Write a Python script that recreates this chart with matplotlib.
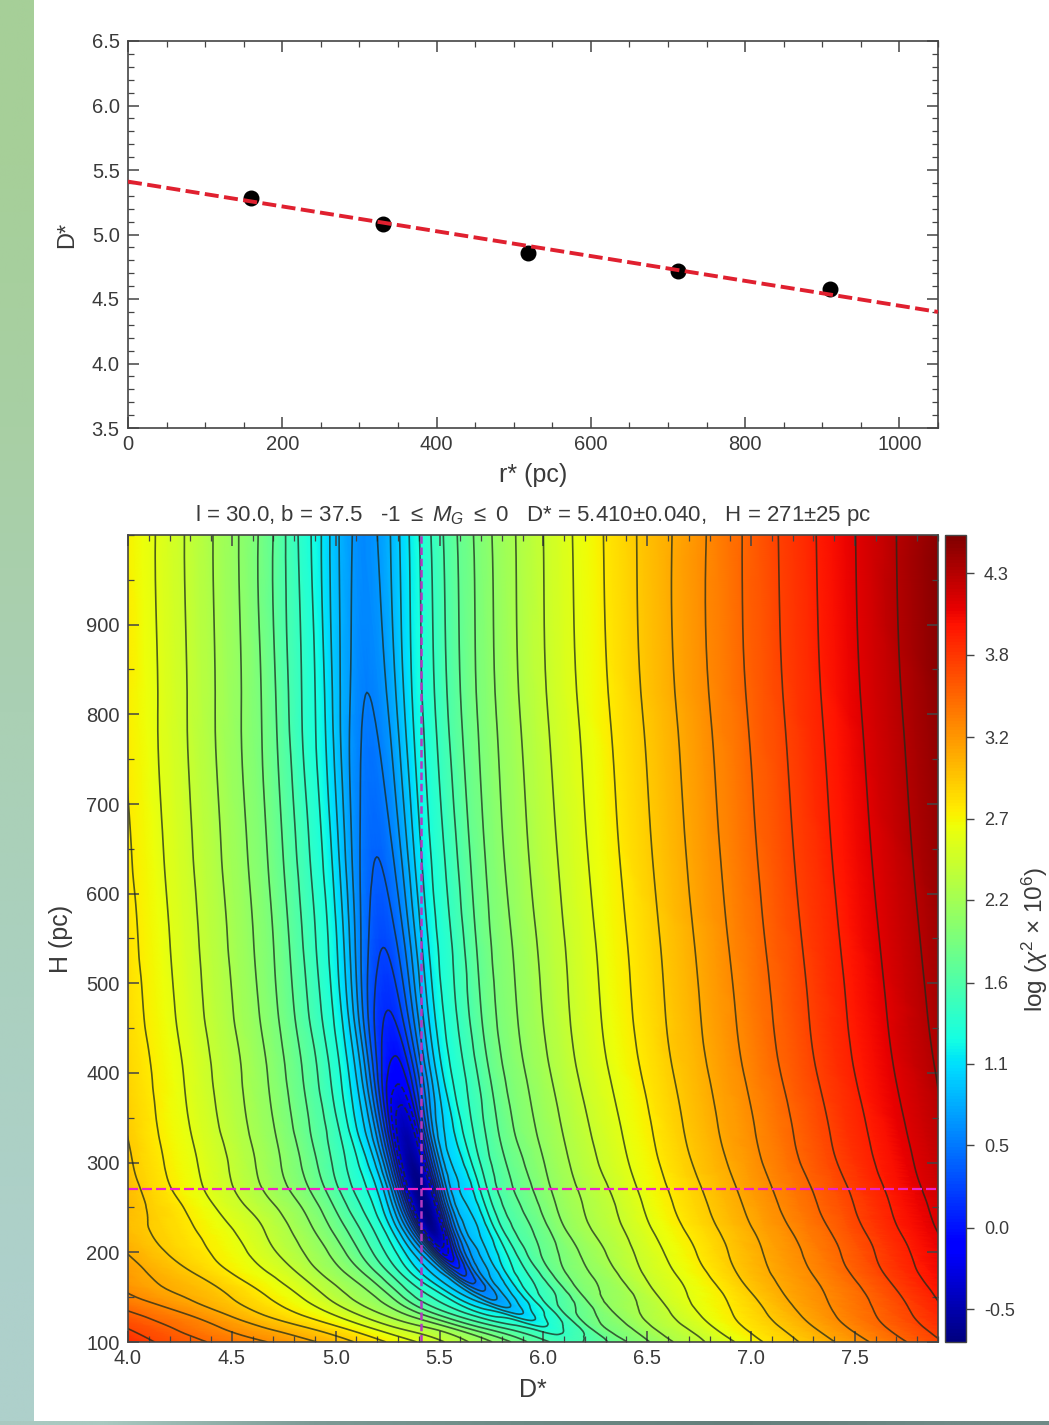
import matplotlib
matplotlib.use("Agg")
import matplotlib.pyplot as plt
import numpy as np
from matplotlib.cm import ScalarMappable
from matplotlib.colors import Normalize, to_rgb
from matplotlib.ticker import MultipleLocator
from matplotlib.tri import Triangulation, UniformTriRefiner

plt.rcParams["font.family"] = ["Liberation Sans", "DejaVu Sans"]
plt.rcParams["mathtext.fontset"] = "custom"
plt.rcParams["mathtext.rm"] = "Liberation Sans"
plt.rcParams["mathtext.it"] = "Liberation Sans:italic"

# top panel
r_points = [160, 330, 518, 713, 910]
d_points = [5.28, 5.08, 4.86, 4.72, 4.58]
r_fit = [0, 1050]
d_fit = [5.41, 4.40]

# bottom panel: log chi2, row by row, at D* = valley + offset
h_rows = [100, 115, 130, 150, 175, 200, 225, 250, 275, 300, 340, 400, 470, 550, 650, 800, 1000]
valley = [6.15, 6.02, 5.895, 5.75, 5.62, 5.53, 5.47, 5.43, 5.40, 5.37, 5.33, 5.29, 5.25, 5.225, 5.195, 5.16, 5.14]
offsets = [-2.3, -2.0, -1.6, -1.3, -1.0, -0.8, -0.6, -0.45, -0.3, -0.2, -0.12, -0.06, 0,
           0.06, 0.12, 0.2, 0.3, 0.45, 0.6, 0.8, 1.0, 1.3, 1.6, 2.0, 2.5, 3.0]
chi_map = [
    [4.05, 3.68, 3.38, 3.17, 2.87, 2.63, 2.36, 2.13, 1.89, 1.70, 1.60, 1.55, 1.57, 1.62, 1.70, 1.81, 1.97, 2.18, 2.37, 2.62, 2.86, 3.17, 3.50, 3.96, 4.48, 5.00],
    [4.00, 3.68, 3.33, 3.08, 2.79, 2.52, 2.27, 2.04, 1.75, 1.60, 1.50, 1.41, 1.34, 1.42, 1.52, 1.72, 1.92, 2.12, 2.32, 2.57, 2.81, 3.13, 3.46, 3.91, 4.44, 4.95],
    [3.98, 3.65, 3.30, 3.00, 2.70, 2.43, 2.13, 1.86, 1.56, 1.37, 1.26, 1.16, 1.04, 1.16, 1.32, 1.55, 1.81, 2.04, 2.25, 2.50, 2.74, 3.07, 3.39, 3.84, 4.38, 4.88],
    [4.05, 3.62, 3.21, 2.98, 2.68, 2.41, 2.11, 1.82, 1.47, 1.25, 1.03, 0.85, 0.70, 0.85, 1.05, 1.33, 1.58, 1.91, 2.12, 2.39, 2.63, 2.98, 3.29, 3.73, 4.29, 4.79],
    [4.10, 3.65, 3.18, 2.95, 2.65, 2.41, 2.10, 1.84, 1.45, 1.16, 0.95, 0.62, 0.28, 0.60, 0.88, 1.14, 1.43, 1.81, 2.04, 2.31, 2.56, 2.92, 3.23, 3.67, 4.22, 4.73],
    [4.12, 3.65, 3.18, 2.90, 2.63, 2.38, 2.10, 1.83, 1.47, 1.17, 0.85, 0.30, -0.20, 0.30, 0.75, 1.02, 1.33, 1.74, 1.99, 2.26, 2.52, 2.87, 3.19, 3.62, 4.18, 4.69],
    [4.10, 3.68, 3.15, 2.89, 2.62, 2.38, 2.09, 1.82, 1.48, 1.16, 0.70, -0.05, -0.62, -0.05, 0.68, 0.99, 1.31, 1.71, 1.98, 2.26, 2.51, 2.86, 3.18, 3.61, 4.18, 4.68],
    [4.12, 3.72, 3.20, 2.90, 2.57, 2.33, 2.06, 1.78, 1.44, 1.14, 0.60, -0.20, -0.70, -0.18, 0.65, 1.01, 1.33, 1.73, 1.99, 2.26, 2.51, 2.87, 3.19, 3.62, 4.18, 4.69],
    [4.20, 3.85, 3.30, 2.88, 2.53, 2.27, 2.00, 1.73, 1.40, 1.13, 0.55, -0.25, -0.68, -0.18, 0.65, 1.03, 1.35, 1.75, 2.00, 2.27, 2.52, 2.88, 3.20, 3.63, 4.19, 4.70],
    [4.20, 3.85, 3.30, 2.88, 2.54, 2.28, 2.00, 1.73, 1.40, 1.10, 0.55, -0.20, -0.62, -0.15, 0.62, 1.05, 1.36, 1.75, 2.00, 2.28, 2.53, 2.89, 3.21, 3.65, 4.19, 4.73],
    [4.20, 3.85, 3.30, 2.89, 2.54, 2.28, 2.01, 1.74, 1.40, 1.05, 0.55, -0.10, -0.45, -0.10, 0.60, 1.05, 1.37, 1.75, 2.01, 2.28, 2.53, 2.89, 3.21, 3.65, 4.19, 4.73],
    [4.20, 3.85, 3.30, 2.90, 2.55, 2.29, 2.02, 1.75, 1.40, 1.05, 0.55, 0.10, -0.08, 0.10, 0.55, 1.05, 1.38, 1.75, 2.02, 2.30, 2.55, 2.90, 3.22, 3.67, 4.20, 4.73],
    [4.20, 3.85, 3.30, 2.90, 2.55, 2.29, 2.02, 1.75, 1.40, 1.06, 0.60, 0.28, 0.15, 0.28, 0.60, 1.05, 1.38, 1.75, 2.02, 2.30, 2.55, 2.90, 3.22, 3.67, 4.20, 4.73],
    [4.20, 3.85, 3.30, 2.90, 2.55, 2.29, 2.02, 1.75, 1.40, 1.08, 0.68, 0.43, 0.32, 0.43, 0.68, 1.08, 1.38, 1.75, 2.02, 2.30, 2.55, 2.90, 3.23, 3.68, 4.21, 4.73],
    [4.20, 3.85, 3.30, 2.90, 2.55, 2.29, 2.02, 1.75, 1.40, 1.10, 0.75, 0.55, 0.46, 0.55, 0.75, 1.10, 1.39, 1.75, 2.03, 2.31, 2.56, 2.91, 3.24, 3.69, 4.22, 4.73],
    [4.20, 3.85, 3.30, 2.90, 2.56, 2.30, 2.03, 1.76, 1.40, 1.12, 0.82, 0.66, 0.58, 0.66, 0.82, 1.12, 1.40, 1.76, 2.03, 2.32, 2.57, 2.92, 3.25, 3.70, 4.23, 4.73],
    [4.20, 3.85, 3.32, 2.90, 2.57, 2.31, 2.04, 1.77, 1.40, 1.13, 0.87, 0.74, 0.66, 0.74, 0.87, 1.12, 1.40, 1.76, 2.03, 2.32, 2.58, 2.93, 3.25, 3.71, 4.24, 4.73],
]
levels = [-0.3, -0.15, 0, 0.15, 0.3, 0.45, 0.6, 0.74, 0.88, 1.02, 1.16, 1.3, 1.45, 1.6, 1.75,
          1.9, 2.05, 2.22, 2.4, 2.58, 2.76, 2.94, 3.12, 3.3, 3.5, 3.7, 3.9, 4.1, 4.3, 4.5]
best_d = 5.41
best_h = 271

cbar_ticks = [-0.5, 0.03, 0.57, 1.1, 1.63, 2.17, 2.7, 3.23, 3.77, 4.3]
cbar_labels = ["-0.5", "0.0", "0.5", "1.1", "1.6", "2.2", "2.7", "3.2", "3.8", "4.3"]

# page background strips
strip_left = ["#a6cf98", "#a8cfa4", "#aad0b4", "#abd0c0", "#aed0cb"]
strip_bottom = ["#a9c9c0", "#7d9a95", "#6c8a85", "#647f7b", "#6f8a86"]

W, H = 1049, 1425
TEXT = "#3a3a3a"
EDGE = "#444444"


def px_axes(fig, left, top, right, bottom):
    return fig.add_axes([left / W, 1 - bottom / H, (right - left) / W, (bottom - top) / H])


def style_ticks(ax):
    ax.tick_params(which="major", direction="in", top=True, right=True, length=8, width=1.1,
                   color=EDGE, labelsize=14.5, labelcolor=TEXT)
    ax.tick_params(axis="x", which="major", pad=5)
    ax.tick_params(axis="y", which="major", pad=6)
    ax.tick_params(which="minor", direction="in", top=True, right=True, length=4, width=0.9, color=EDGE)
    for spine in ax.spines.values():
        spine.set_linewidth(1.2)
        spine.set_color(EDGE)


def grid_triangles(n_rows, n_cols):
    tris = []
    for i in range(n_rows - 1):
        for j in range(n_cols - 1):
            a = i * n_cols + j
            tris.append([a, a + 1, a + n_cols])
            tris.append([a + 1, a + n_cols + 1, a + n_cols])
    return np.array(tris)


fig = plt.figure(figsize=(W / 100, H / 100), dpi=100, facecolor="white")

# background strips
ax_strip = px_axes(fig, 0, 0, 34, H)
ax_strip.imshow([[to_rgb(c)] for c in strip_left], aspect="auto", interpolation="bilinear")
ax_strip.axis("off")
ax_strip = px_axes(fig, 0, 1421, W, H)
ax_strip.imshow([[to_rgb(c) for c in strip_bottom]], aspect="auto", interpolation="bilinear")
ax_strip.axis("off")

# top panel
ax = px_axes(fig, 128, 41, 938, 428)
ax.scatter(r_points, d_points, s=110, color="black", zorder=3)
ax.plot(r_fit, d_fit, color="#e0202f", linestyle=(0, (3.6, 1.4)), linewidth=2.8, zorder=4)
ax.set_xlim(0, 1050)
ax.set_ylim(3.5, 6.5)
ax.xaxis.set_major_locator(MultipleLocator(200))
ax.xaxis.set_minor_locator(MultipleLocator(50))
ax.yaxis.set_major_locator(MultipleLocator(0.5))
ax.yaxis.set_minor_locator(MultipleLocator(0.1))
style_ticks(ax)
ax.set_xlabel("r* (pc)", fontsize=18, color=TEXT)
ax.xaxis.set_label_coords(0.5, -0.09)
ax.set_ylabel("D*", fontsize=17, color=TEXT)
ax.yaxis.set_label_coords(-0.062, 0.5)

# bottom panel
off = np.array(offsets)
X = np.array(valley)[:, None] + off[None, :]
Y = np.repeat(np.array(h_rows, dtype=float)[:, None], len(off), axis=1)
Z = np.array(chi_map)
norm = Normalize(vmin=-0.715, vmax=4.55)

tri = Triangulation(X.ravel(), Y.ravel(), grid_triangles(*Z.shape))
tri_fine, z_fine = UniformTriRefiner(tri).refine_field(Z.ravel(), subdiv=3)

ax = px_axes(fig, 128, 535, 938, 1342)
ax.tripcolor(tri_fine, z_fine, cmap="jet", norm=norm, shading="gouraud", rasterized=True)
ax.tricontour(tri_fine, z_fine, levels=levels, colors="#1c2a1c", linewidths=1.2, alpha=0.75)
ax.axvline(best_d, color="#b23ac0", linestyle=(0, (3, 1.5)), linewidth=1.8)
ax.axhline(best_h, color="#ee22c8", linestyle=(0, (4.5, 1.8)), linewidth=1.6)
ax.set_xlim(4.0, 7.9)
ax.set_ylim(100, 1000)
ax.xaxis.set_major_locator(MultipleLocator(0.5))
ax.xaxis.set_minor_locator(MultipleLocator(0.1))
ax.yaxis.set_major_locator(MultipleLocator(100))
ax.yaxis.set_minor_locator(MultipleLocator(50))
ax.set_yticks([t for t in range(100, 1000, 100)])
style_ticks(ax)
ax.set_xlabel("D*", fontsize=18, color=TEXT)
ax.xaxis.set_label_coords(0.5, -0.044)
ax.set_ylabel("H (pc)", fontsize=18, color=TEXT)
ax.yaxis.set_label_coords(-0.068, 0.5)
ax.set_title("l = 30.0, b = 37.5   -1 $\\leq$ $M_G$ $\\leq$ 0   D* = 5.410$\\pm$0.040,   H = 271$\\pm$25 pc",
             fontsize=16, color=TEXT, pad=10)

# colour bar
cax = px_axes(fig, 945, 535, 966, 1342)
cbar = fig.colorbar(ScalarMappable(norm=norm, cmap="jet"), cax=cax)
cbar.set_ticks(cbar_ticks, labels=cbar_labels)
cbar.ax.tick_params(length=6, width=1.0, color=EDGE, labelsize=13, labelcolor=TEXT, pad=7)
cbar.ax.minorticks_off()
cbar.outline.set_edgecolor(EDGE)
cbar.outline.set_linewidth(1.0)
fig.text(1035 / W, 1 - 940 / H, "log ($\\chi^2$ $\\times$ $10^6$)", rotation=90, fontsize=17.5,
         color=TEXT, ha="center", va="center")

fig.savefig("out.png", dpi=100)
